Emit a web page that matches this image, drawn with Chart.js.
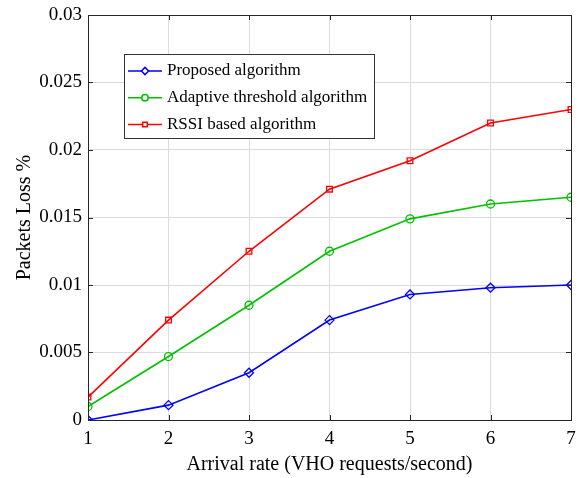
<!DOCTYPE html>
<html><head><meta charset="utf-8">
<script src="https://cdn.jsdelivr.net/npm/chart.js@4.4.1/dist/chart.umd.min.js"></script>
<style>html,body{margin:0;padding:0;background:#fff}#wrap{width:578px;height:478px}</style>
</head><body><div id="wrap"><canvas id="c" width="578" height="478"></canvas></div>
<script>
const categories = [1, 2, 3, 4, 5, 6, 7];
const proposed = [0.0000, 0.0011, 0.0035, 0.0074, 0.0093, 0.0098, 0.0100];
const adaptive = [0.0010, 0.0047, 0.0085, 0.0125, 0.0149, 0.0160, 0.0165];
const rssi = [0.0017, 0.0074, 0.0125, 0.0171, 0.0192, 0.0220, 0.0230];
const seriesLabels = ['Proposed algorithm', 'Adaptive threshold algorithm', 'RSSI based algorithm'];
const yTicks = [0, 0.005, 0.01, 0.015, 0.02, 0.025, 0.03];

const FONT = "'Liberation Serif', 'Times New Roman', serif";

function mk(label, data, color, style, r) {
  return { label, data: data.map((v, i) => ({x: categories[i], y: v})), borderColor: color,
    backgroundColor: '#ffffff', pointBorderColor: color, pointBackgroundColor: 'rgba(255,255,255,0)',
    pointStyle: style, pointRadius: r, pointBorderWidth: 1.3, borderWidth: 1.6, tension: 0 };
}

const boxPlugin = {
  id: 'box',
  afterDatasetsDraw(chart) {
    const {ctx, chartArea: a, scales: {x, y}} = chart;
    ctx.save();
    ctx.strokeStyle = '#262626';
    ctx.lineWidth = 1;
    ctx.beginPath();
    categories.forEach(v => {
      const px = Math.round(x.getPixelForValue(v)) + 0.5;
      ctx.moveTo(px, a.bottom); ctx.lineTo(px, a.bottom - 5);
      ctx.moveTo(px, a.top); ctx.lineTo(px, a.top + 5);
    });
    yTicks.forEach(v => {
      const py = Math.round(y.getPixelForValue(v)) + 0.5;
      ctx.moveTo(a.left, py); ctx.lineTo(a.left + 5, py);
      ctx.moveTo(a.right, py); ctx.lineTo(a.right - 5, py);
    });
    ctx.stroke();
    ctx.strokeRect(Math.round(a.left) + 0.5, Math.round(a.top) + 0.5, Math.round(a.right - a.left), Math.round(a.bottom - a.top));
    // legend
    const lx = a.left + 36, ly = a.top + 39, lw = 250, lh = 84;
    ctx.fillStyle = '#fff';
    ctx.fillRect(lx, ly, lw, lh);
    ctx.strokeStyle = '#333';
    ctx.strokeRect(lx + 0.5, ly + 0.5, lw, lh);
    ctx.font = "17px " + FONT;
    ctx.textBaseline = 'middle';
    chart.data.datasets.forEach((ds, i) => {
      const cy = ly + 17 + i * 26.7;
      ctx.strokeStyle = ds.borderColor; ctx.lineWidth = 1.5;
      ctx.beginPath(); ctx.moveTo(lx + 4, cy); ctx.lineTo(lx + 38, cy); ctx.stroke();
      ctx.fillStyle = '#fff';
      Chart.helpers.drawPoint(ctx, {pointStyle: ds.pointStyle, radius: ds.pointRadius * 0.8, borderWidth: 1.2}, lx + 21, cy);
      ctx.fillStyle = '#000';
      ctx.fillText(ds.label, lx + 43, cy);
    });
    ctx.restore();
  }
};

new Chart(document.getElementById('c'), {
  type: 'line',
  data: { datasets: [
    mk(seriesLabels[0], proposed, '#0000ff', 'rectRot', 4.5),
    mk(seriesLabels[1], adaptive, '#00c000', 'circle', 4),
    mk(seriesLabels[2], rssi, '#ff0000', 'rect', 4)
  ]},
  options: {
    responsive: false, animation: false,
    layout: { padding: { left: 0, right: 7, top: 15, bottom: 0 } },
    plugins: { legend: { display: false }, tooltip: { enabled: false } },
    scales: {
      x: { type: 'linear', min: 1, max: 7,
        afterBuildTicks(s) { s.ticks = categories.map(v => ({value: v})); },
        afterFit(s) { s.height = 58; s.paddingLeft = 0; s.paddingRight = 0; },
        grid: { color: '#dcdcdc', drawTicks: false },
        border: { display: false },
        ticks: { color: '#000', padding: 8, font: { family: FONT, size: 19 }, maxRotation: 0 },
        title: { display: true, text: 'Arrival rate (VHO requests/second)', color: '#000',
          font: { family: FONT, size: 20 }, padding: { top: 0, bottom: 1 } } },
      y: { min: 0, max: 0.03,
        afterBuildTicks(s) { s.ticks = yTicks.map(v => ({value: v})); },
        afterFit(s) { s.width = 88; s.paddingTop = 0; s.paddingBottom = 0; },
        grid: { color: '#dcdcdc', drawTicks: false },
        border: { display: false },
        ticks: { color: '#000', padding: 6, font: { family: FONT, size: 19 },
          callback: v => String(Number(v.toFixed(4))) },
        title: { display: true, text: 'Packets Loss %', color: '#000',
          font: { family: FONT, size: 20 }, padding: { top: 13, bottom: 0 } } }
    }
  },
  plugins: [boxPlugin]
});
</script></body></html>
